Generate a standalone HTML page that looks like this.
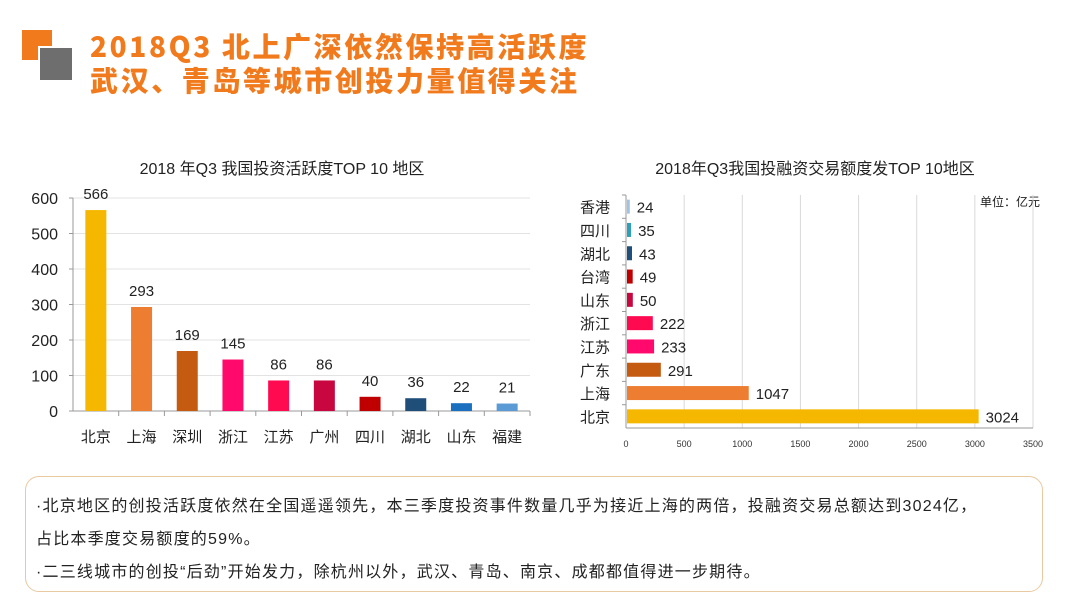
<!DOCTYPE html>
<html><head><meta charset="utf-8"><style>
body{margin:0;width:1080px;height:608px;background:#fff;overflow:hidden;position:relative;font-family:"Liberation Sans","Noto Sans CJK SC",sans-serif}
.t{position:absolute;left:90px;font-size:28px;font-weight:900;color:#f07a1c;letter-spacing:2.6px;font-family:"Noto Sans CJK SC",sans-serif;white-space:nowrap}
.box{position:absolute;left:25px;top:476px;width:1018px;height:116px;border:1px solid #e8c9a0;border-radius:14px;box-sizing:border-box}
.p{position:absolute;left:36px;font-size:16px;letter-spacing:1.2px;color:#222;white-space:nowrap}
</style></head><body>
<div style="position:absolute;left:22px;top:30px;width:30px;height:30px;background:#f07a1c"></div>
<div style="position:absolute;left:38px;top:46px;width:32px;height:32px;background:#6e6e6e;border:2px solid #fff"></div>
<div class="t" style="top:26px">2018Q3 北上广深依然保持高活跃度</div>
<div class="t" style="top:60px">武汉、青岛等城市创投力量值得关注</div>
<svg width="1080" height="608" style="position:absolute;left:0;top:0" id="svg"></svg>
<div class="box"></div>
<div class="p" style="top:492px">·北京地区的创投活跃度依然在全国遥遥领先，本三季度投资事件数量几乎为接近上海的两倍，投融资交易总额达到3024亿，</div>
<div class="p" style="top:525px">占比本季度交易额度的59%。</div>
<div class="p" style="top:558px">·二三线城市的创投“后劲”开始发力，除杭州以外，武汉、青岛、南京、成都都值得进一步期待。</div>
<script>
const leftCats=["北京","上海","深圳","浙江","江苏","广州","四川","湖北","山东","福建"];
const leftVals=[566,293,169,145,86,86,40,36,22,21];
const leftTicks=[0,100,200,300,400,500,600];
const rightCats=["香港","四川","湖北","台湾","山东","浙江","江苏","广东","上海","北京"];
const rightVals=[24,35,43,49,50,222,233,291,1047,3024];
const rightTicks=[0,500,1000,1500,2000,2500,3000,3500];
const leftColors=["#f5b700","#ed7d31","#c55a11","#ff0a6c","#ff0a50","#c8063f","#c00000","#1f4e79","#1a6fbf","#5b9bd5"];
const rightColors=["#9dc3e6","#2e9fb6","#1f4e79","#c00000","#c8063f","#ff0a50","#ff0a6c","#c55a11","#ed7d31","#f5b700"];
const svg=document.getElementById('svg');const NS="http://www.w3.org/2000/svg";
function mk(t,a,txt){const e=document.createElementNS(NS,t);for(const k in a)e.setAttribute(k,a[k]);if(txt!==undefined)e.textContent=txt;svg.appendChild(e);return e;}
const F='"Liberation Sans","Noto Sans CJK SC",sans-serif';
const lx0=73,lx1=530,ly0=411,ly1=198;
const ly=v=>ly0-(v/600)*(ly0-ly1);
const cw=(lx1-lx0)/leftCats.length;
let e=mk('text',{x:282,y:174,'font-size':16,'text-anchor':'middle',fill:'#222','font-family':F},'2018 年Q3  我国投资活跃度TOP  10 地区');


leftTicks.forEach(t=>{
 if(t>0){e=mk('line',{x1:lx0,x2:lx1,y1:ly(t),y2:ly(t),stroke:'#e3e3e3'});
 
 }
 e=mk('line',{x1:lx0-4,x2:lx0,y1:ly(t),y2:ly(t),stroke:'#999'});
 
 
 e=mk('text',{x:58,y:ly(t)+6,'font-size':16,'text-anchor':'end',fill:'#222','font-family':F},t);
 
 
});
e=mk('line',{x1:lx0,x2:lx0,y1:ly1,y2:ly0,stroke:'#999'});


e=mk('line',{x1:lx0,x2:lx1,y1:ly0,y2:ly0,stroke:'#999'});


leftCats.forEach((c,i)=>{
 const cx=lx0+cw*(i+0.5),v=leftVals[i];
 e=mk('rect',{x:cx-10.5,y:ly(v),width:21,height:ly0-ly(v),fill:leftColors[i]});
 
 
 e=mk('text',{x:cx,y:ly(v)-11,'font-size':15,'text-anchor':'middle',fill:'#222','font-family':F},v);
 
 
 e=mk('text',{x:cx,y:442,'font-size':15,'text-anchor':'middle',fill:'#222','font-family':F},c);
 
 
 e=mk('line',{x1:lx0+cw*(i+1),x2:lx0+cw*(i+1),y1:ly0,y2:ly0+5,stroke:'#999'});
 
 
});
const rx0=626,rx1=1033,ry0=195,ry1=428;
const rx=v=>rx0+(v/3500)*(rx1-rx0);
const rh=(ry1-ry0)/rightCats.length;
e=mk('text',{x:815,y:174,'font-size':16,'text-anchor':'middle',fill:'#222','font-family':F},'2018年Q3我国投融资交易额度发TOP  10地区');


e=mk('text',{x:1040,y:206,'font-size':12,'text-anchor':'end',fill:'#222','font-family':F},'单位：亿元');


rightTicks.forEach(t=>{
 if(t>0){e=mk('line',{x1:rx(t),x2:rx(t),y1:ry0,y2:ry1,stroke:'#d9d9d9'});
 
 }
 e=mk('text',{x:rx(t),y:447,'font-size':9,'text-anchor':'middle',fill:'#333','font-family':F},t);
 
 
});
e=mk('line',{x1:rx0,x2:rx0,y1:ry0,y2:ry1,stroke:'#999'});


e=mk('line',{x1:rx0,x2:rx1,y1:ry1,y2:ry1,stroke:'#999'});


rightCats.forEach((c,i)=>{
 const cy=ry0+rh*(i+0.5),v=rightVals[i];
 e=mk('rect',{x:rx0+1,y:cy-7,width:Math.max(1,rx(v)-rx0),height:14,fill:rightColors[i]});
 
 
 e=mk('text',{x:rx(v)+8,y:cy+6,'font-size':15,fill:'#222','font-family':F},v);
 
 
 e=mk('text',{x:610,y:cy+6,'font-size':15,'text-anchor':'end',fill:'#222','font-family':F},c);
 
 
 e=mk('line',{x1:rx0-4,x2:rx0,y1:ry0+rh*i,y2:ry0+rh*i,stroke:'#999'});
 
 
});
</script>
</body></html>
